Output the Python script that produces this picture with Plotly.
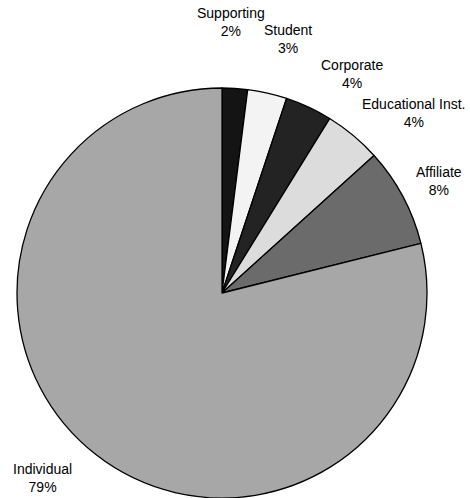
import plotly.graph_objects as go

categories = ["Supporting", "Student", "Corporate", "Educational Inst.", "Affiliate", "Individual"]
values = [2.0, 3.1, 3.7, 4.5, 7.8, 78.9]
pct_labels = ["2%", "3%", "4%", "4%", "8%", "79%"]
colors = ["#141414", "#f3f3f3", "#232323", "#dcdcdc", "#6b6b6b", "#a7a7a7"]

W, H = 470, 498
cx, cy, r = 222, 293, 205

fig = go.Figure(go.Pie(
    labels=categories,
    values=values,
    sort=False,
    direction="clockwise",
    rotation=0,
    textinfo="none",
    hoverinfo="label+percent",
    marker=dict(colors=colors, line=dict(color="#000000", width=1.3)),
    domain=dict(x=[(cx - r) / W, (cx + r) / W], y=[1 - (cy + r) / H, 1 - (cy - r) / H]),
    showlegend=False,
))

# label centre positions (pixels)
label_pos = [(231, 22), (288, 39), (352, 74), (414, 113), (439, 181), (42, 478)]
for name, pct, (lx, ly) in zip(categories, pct_labels, label_pos):
    fig.add_annotation(
        x=lx / W, y=1 - ly / H, xref="paper", yref="paper",
        text=f"{name}<br>{pct}", showarrow=False,
        xanchor="center", yanchor="middle", align="center",
        font=dict(family="Liberation Sans, Arial, sans-serif", size=14, color="#000000"),
    )

fig.update_layout(
    width=W, height=H,
    margin=dict(l=0, r=0, t=0, b=0),
    paper_bgcolor="#ffffff", plot_bgcolor="#ffffff",
)

fig.write_html(
    "out.html",
    config={"displayModeBar": False},
    post_script="document.body.style.margin='0';document.body.style.overflow='hidden';",
)
